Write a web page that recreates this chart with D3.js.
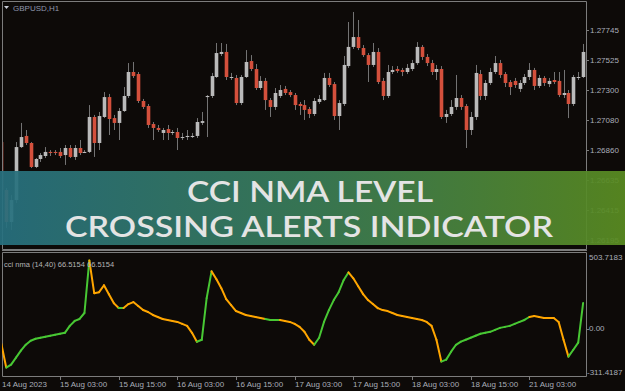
<!DOCTYPE html>
<html>
<head>
<meta charset="utf-8">
<script src="https://cdn.jsdelivr.net/npm/d3@7/dist/d3.min.js"></script>
<style>
body { margin: 0; background: #0d0a08; overflow: hidden; }
</style>
</head>
<body>
<div id="chart"></div>
<script>
// GBPUSD H1 bars, [open, high, low, close]
var candles = [
	[1.26918,1.26948,1.26527,1.26564],[1.26564,1.26579,1.26284,1.26328],[1.26328,1.26527,1.26269,1.26490],[1.26490,1.26918,1.26468,1.26881],
	[1.26881,1.27059,1.26874,1.26955],[1.26963,1.27007,1.26896,1.26911],[1.26911,1.26918,1.26726,1.26734],[1.26734,1.26800,1.26726,1.26793],
	[1.26793,1.26837,1.26771,1.26822],[1.26815,1.26881,1.26800,1.26845],[1.26845,1.26859,1.26815,1.26837],[1.26845,1.26859,1.26822,1.26837],
	[1.26845,1.26874,1.26800,1.26815],[1.26822,1.26896,1.26749,1.26874],[1.26874,1.26896,1.26800,1.26808],[1.26808,1.26896,1.26786,1.26874],
	[1.26874,1.26933,1.26822,1.26837],[1.26837,1.26859,1.26837,1.26845],[1.26845,1.27191,1.26837,1.27103],[1.27103,1.27118,1.26808,1.26911],
	[1.26911,1.27140,1.26859,1.27110],[1.27103,1.27287,1.27095,1.27250],[1.27250,1.27273,1.26970,1.27088],[1.27095,1.27118,1.27007,1.27059],
	[1.27059,1.27169,1.26933,1.27147],[1.27147,1.27324,1.27140,1.27258],[1.27258,1.27501,1.27243,1.27435],[1.27435,1.27509,1.27391,1.27405],
	[1.27420,1.27435,1.27206,1.27221],[1.27221,1.27236,1.27162,1.27177],[1.27184,1.27199,1.27022,1.27044],[1.27051,1.27066,1.26933,1.27022],
	[1.27022,1.27044,1.26992,1.27007],[1.26985,1.27022,1.26933,1.27007],[1.27014,1.27044,1.26933,1.26985],[1.26985,1.27007,1.26970,1.26992],
	[1.26992,1.27022,1.26859,1.26948],[1.26948,1.26985,1.26933,1.26955],[1.26955,1.27007,1.26933,1.26963],[1.26955,1.26985,1.26948,1.26963],
	[1.26963,1.27095,1.26948,1.27066],[1.27059,1.27140,1.27044,1.27073],[1.27250,1.27265,1.26955,1.27258],[1.27258,1.27428,1.27243,1.27405],
	[1.27398,1.27649,1.27391,1.27575],[1.27568,1.27649,1.27553,1.27583],[1.27583,1.27642,1.27376,1.27398],[1.27391,1.27428,1.27376,1.27398],
	[1.27391,1.27413,1.27191,1.27206],[1.27206,1.27413,1.27191,1.27398],[1.27398,1.27597,1.27391,1.27509],[1.27516,1.27560,1.27442,1.27457],
	[1.27457,1.27494,1.27302,1.27317],[1.27317,1.27405,1.27302,1.27369],[1.27369,1.27391,1.27155,1.27228],[1.27228,1.27243,1.27103,1.27177],
	[1.27177,1.27317,1.27155,1.27280],[1.27258,1.27339,1.27243,1.27302],[1.27310,1.27332,1.27265,1.27280],[1.27287,1.27302,1.27250,1.27265],
	[1.27265,1.27280,1.27155,1.27191],[1.27199,1.27214,1.27118,1.27184],[1.27191,1.27228,1.27081,1.27155],[1.27162,1.27177,1.27095,1.27125],
	[1.27125,1.27243,1.27110,1.27221],[1.27214,1.27265,1.27199,1.27236],[1.27228,1.27428,1.27221,1.27391],[1.27391,1.27428,1.27324,1.27339],
	[1.27346,1.27361,1.27081,1.27110],[1.27110,1.27228,1.27007,1.27206],[1.27199,1.27553,1.27184,1.27487],[1.27479,1.27804,1.27465,1.27620],
	[1.27620,1.27878,1.27605,1.27693],[1.27693,1.27819,1.27597,1.27612],[1.27612,1.27634,1.27546,1.27560],[1.27560,1.27575,1.27361,1.27487],
	[1.27487,1.27649,1.27472,1.27583],[1.27583,1.27612,1.27346,1.27361],[1.27369,1.27391,1.27228,1.27258],[1.27258,1.27487,1.27243,1.27435],
	[1.27435,1.27479,1.27420,1.27450],[1.27457,1.27479,1.27428,1.27442],[1.27450,1.27465,1.27405,1.27435],[1.27435,1.27494,1.27420,1.27465],
	[1.27457,1.27524,1.27442,1.27501],[1.27501,1.27656,1.27487,1.27620],[1.27620,1.27634,1.27524,1.27546],[1.27546,1.27568,1.27479,1.27501],
	[1.27501,1.27524,1.27413,1.27435],[1.27435,1.27487,1.27376,1.27457],[1.27457,1.27479,1.27088,1.27103],[1.27103,1.27155,1.27059,1.27125],
	[1.27125,1.27228,1.27110,1.27177],[1.27177,1.27413,1.27155,1.27243],[1.27243,1.27265,1.27155,1.27177],[1.27184,1.27199,1.26874,1.27007],
	[1.27007,1.27140,1.26970,1.27103],[1.27103,1.27487,1.27081,1.27428],[1.27420,1.27450,1.27228,1.27258],[1.27258,1.27376,1.27228,1.27354],
	[1.27354,1.27465,1.27339,1.27435],[1.27435,1.27553,1.27420,1.27501],[1.27501,1.27524,1.27391,1.27413],[1.27420,1.27435,1.27324,1.27354],
	[1.27361,1.27376,1.27265,1.27324],[1.27369,1.27391,1.27317,1.27339],[1.27310,1.27376,1.27287,1.27354],[1.27354,1.27420,1.27339,1.27398],
	[1.27398,1.27501,1.27376,1.27450],[1.27450,1.27465,1.27302,1.27332],[1.27332,1.27413,1.27317,1.27391],[1.27391,1.27405,1.27332,1.27354],
	[1.27346,1.27391,1.27324,1.27369],[1.27376,1.27435,1.27346,1.27361],[1.27369,1.27435,1.27250,1.27265],[1.27265,1.27450,1.27243,1.27280],
	[1.27280,1.27302,1.27095,1.27199],[1.27199,1.27413,1.27184,1.27398],[1.27391,1.27435,1.27376,1.27398],[1.27398,1.27642,1.27391,1.27583]
];

// cci nma value per bar
var cci = [
	-107.5,-276.2,-255.1,-205.9,-156.7,-114.5,-86.4,-72.4,-65.4,-58.3,
	-51.3,-44.3,-37.2,-30.2,19.0,54.1,68.1,110.3,482.7,250.9,
	258.0,307.1,243.9,180.6,145.5,145.5,173.6,187.6,159.5,131.4,
	117.3,96.3,82.2,68.1,61.1,54.1,47.1,33.0,19.0,-30.2,
	-93.5,-79.4,215.7,405.5,349.2,286.0,208.7,166.5,124.4,110.3,
	96.3,89.2,82.2,75.2,68.1,61.1,61.1,61.1,54.1,47.1,
	33.0,11.9,-23.0,-79.0,-114.5,-65.0,47.0,131.0,202.0,258.0,
	342.0,398.0,356.0,300.0,244.0,202.0,174.0,145.0,131.0,124.0,
	110.0,96.0,89.0,82.0,75.0,68.0,61.0,47.0,19.0,-79.0,
	-234.0,-220.0,-164.0,-115.0,-93.0,-79.0,-65.0,-51.0,-37.0,-30.0,
	-23.0,-9.0,5.0,12.0,19.0,33.0,47.0,61.0,82.0,89.0,
	82.0,75.0,75.0,75.0,47.0,-79.0,-199.0,-150.0,-100.0,181.0
];

// 1 = rising (green), 0 = falling (orange), segment ending at that bar
var cciUp = [
	0,0,1,1,1,1,1,1,1,1, 1,1,1,1,1,1,1,1,1,0,
	0,0,0,0,0,1,0,0,0,0, 0,0,0,0,0,0,0,0,0,0,
	0,1,1,1,0,0,0,0,0,0, 0,0,0,0,0,1,1,1,0,0,
	0,0,0,0,0,1,1,1,1,1, 1,1,0,0,0,0,0,0,0,0,
	0,0,0,0,0,0,0,0,0,0, 0,1,1,1,1,1,1,1,1,1,
	1,1,1,1,1,1,1,1,1,0, 0,0,0,0,0,0,0,1,1,1
];

var priceTicks = [1.27745, 1.27525, 1.27300, 1.27080, 1.26860, 1.26635, 1.26415, 1.26195];
var cciTicks = [503.7183, 0, -311.4187];
var cciTickLabels = ["503.7183", "0.00", "-311.4187"];
var timeTickBars = [0, 12, 24, 36, 48, 60, 72, 84, 96, 108];
var timeTickLabels = ["14 Aug 2023", "15 Aug 03:00", "15 Aug 15:00", "16 Aug 03:00", "16 Aug 15:00",
	"17 Aug 03:00", "17 Aug 15:00", "18 Aug 03:00", "18 Aug 15:00", "21 Aug 03:00"];

var config = {
	width: 625, height: 391,
	left: 2, right: 586,
	mainTop: 1, mainBottom: 249,
	subTop: 252, subBottom: 376,
	frame: "#7c7c7c", text: "#a9adb8",
	bull: "#bababa", bear: "#d4503c", wick: "#737373",
	up: "#48c834", down: "#ffa600"
};

var svg = d3.select("#chart").append("svg")
	.attr("width", config.width)
	.attr("height", config.height)
	.style("font-family", "'Liberation Sans', Arial, sans-serif");

svg.append("rect").attr("width", config.width).attr("height", config.height).attr("fill", "#0d0a08");

var x = d3.scaleLinear().domain([0, candles.length - 1]).range([1.33, 583.1]);
var yPrice = d3.scaleLinear().domain([1.26195, 1.27745]).range([240, 30]);
var yCci = d3.scaleLinear().domain([-311.4187, 503.7183]).range([372.5, 257.5]);

var defs = svg.append("defs");
defs.append("clipPath").attr("id", "clipMain").append("rect")
	.attr("x", config.left).attr("y", config.mainTop)
	.attr("width", config.right - config.left).attr("height", config.mainBottom - config.mainTop);
defs.append("clipPath").attr("id", "clipSub").append("rect")
	.attr("x", config.left).attr("y", config.subTop)
	.attr("width", config.right - config.left).attr("height", config.subBottom - config.subTop);

// candles
var candleGroup = svg.append("g").attr("clip-path", "url(#clipMain)");
var bars = candleGroup.selectAll("g.bar").data(candles).enter().append("g").attr("class", "bar");
bars.append("line")
	.attr("x1", function(d, i) { return Math.round(x(i)) + 0.5; })
	.attr("x2", function(d, i) { return Math.round(x(i)) + 0.5; })
	.attr("y1", function(d) { return yPrice(d[1]); })
	.attr("y2", function(d) { return yPrice(d[2]); })
	.attr("stroke", config.wick)
	.attr("stroke-width", 1);
bars.append("rect")
	.attr("x", function(d, i) { return Math.round(x(i)) - 1.3; })
	.attr("width", 3.6)
	.attr("y", function(d) { return yPrice(Math.max(d[0], d[3])); })
	.attr("height", function(d) { return Math.max(1, Math.abs(yPrice(d[0]) - yPrice(d[3]))); })
	.attr("fill", function(d) { return d[3] >= d[0] ? config.bull : config.bear; });

// frame
var frame = svg.append("g").attr("stroke", config.frame).attr("stroke-width", 1).attr("fill", "none");
frame.append("path").attr("d", "M" + (config.left + 0.5) + "," + (config.mainBottom + 0.5) + "V" + (config.mainTop + 0.5) + "H" + (config.right + 0.5) + "V" + (config.mainBottom + 0.5) + "H" + (config.left + 0.5));
frame.append("path").attr("d", "M" + (config.left + 0.5) + "," + (config.subBottom + 0.5) + "V" + (config.subTop + 0.5) + "H" + (config.right + 0.5) + "V" + (config.subBottom + 0.5) + "Z");
frame.append("line").attr("x1", config.left).attr("x2", config.right + 1).attr("y1", config.mainBottom + 1.5).attr("y2", config.mainBottom + 1.5);

// price axis
var priceAxis = svg.append("g");
priceAxis.selectAll("line").data(priceTicks).enter().append("line")
	.attr("x1", config.right).attr("x2", config.right + 3)
	.attr("y1", function(d) { return Math.round(yPrice(d)) + 0.5; })
	.attr("y2", function(d) { return Math.round(yPrice(d)) + 0.5; })
	.attr("stroke", config.frame);
priceAxis.selectAll("text").data(priceTicks).enter().append("text")
	.attr("x", config.right + 4)
	.attr("y", function(d) { return yPrice(d); })
	.attr("dy", "0.35em")
	.attr("fill", config.text)
	.style("font-size", "8px")
	.text(function(d) { return d3.format(".5f")(d); });

// header
svg.append("path").attr("d", "M4,6 L9,6 L6.5,9 Z").attr("fill", "#c8ccd6");
svg.append("text").attr("x", 13).attr("y", 11).attr("fill", "#8e96ab").style("font-size", "8px").text("GBPUSD,H1");

// cci nma line
var cciGroup = svg.append("g").attr("clip-path", "url(#clipSub)");
var segs = d3.range(1, cci.length);
cciGroup.selectAll("line").data(segs).enter().append("line")
	.attr("x1", function(i) { return x(i - 1); })
	.attr("y1", function(i) { return yCci(cci[i - 1]); })
	.attr("x2", function(i) { return x(i); })
	.attr("y2", function(i) { return yCci(cci[i]); })
	.attr("stroke", function(i) { return cciUp[i] ? config.up : config.down; })
	.attr("stroke-width", 2)
	.attr("stroke-linecap", "round");

svg.append("text").attr("x", 4).attr("y", 267).attr("fill", "#b4b4b4").style("font-size", "7.5px")
	.text("cci nma (14,40) 66.5154 66.5154");

var cciAxis = svg.append("g");
cciAxis.append("line").attr("x1", config.right).attr("x2", config.right + 3)
	.attr("y1", Math.round(yCci(0)) + 0.5).attr("y2", Math.round(yCci(0)) + 0.5).attr("stroke", config.frame);
cciAxis.selectAll("text").data(cciTicks).enter().append("text")
	.attr("x", function(d, i) { return i == 2 ? config.right + 1 : config.right + 3; })
	.attr("y", function(d) { return yCci(d); })
	.attr("dy", "0.35em")
	.attr("fill", config.text)
	.style("font-size", "8px")
	.text(function(d, i) { return cciTickLabels[i]; });

// time axis
var timeAxis = svg.append("g");
timeAxis.selectAll("line").data(timeTickBars.slice(1)).enter().append("line")
	.attr("x1", function(d) { return Math.round(x(d)) + 0.5; })
	.attr("x2", function(d) { return Math.round(x(d)) + 0.5; })
	.attr("y1", config.subBottom).attr("y2", config.subBottom + 4)
	.attr("stroke", config.frame);
timeAxis.selectAll("text").data(timeTickBars).enter().append("text")
	.attr("x", function(d) { return d == 0 ? 2 : Math.round(x(d)); })
	.attr("y", 387)
	.attr("fill", config.text)
	.style("font-size", "8px")
	.text(function(d, i) { return timeTickLabels[i]; });

// banner
var grad = defs.append("linearGradient").attr("id", "bannerGrad").attr("x1", "0%").attr("x2", "100%");
grad.append("stop").attr("offset", "0%").attr("stop-color", "#27707f");
grad.append("stop").attr("offset", "50%").attr("stop-color", "#3a7c57");
grad.append("stop").attr("offset", "100%").attr("stop-color", "#5a8c21");
svg.append("rect").attr("x", 0).attr("y", 171).attr("width", config.width).attr("height", 74)
	.attr("fill", "url(#bannerGrad)").attr("opacity", 0.93);

var bannerText = svg.append("g").attr("fill", "#e4e4e4").attr("text-anchor", "middle")
	.style("font-family", "Lato, 'Open Sans', sans-serif").style("font-weight", 600).style("font-size", "29px");
bannerText.append("text").attr("x", 310).attr("y", 202).attr("textLength", 246).attr("lengthAdjust", "spacingAndGlyphs").text("CCI NMA LEVEL");
bannerText.append("text").attr("x", 309).attr("y", 237).attr("textLength", 488).attr("lengthAdjust", "spacingAndGlyphs").text("CROSSING ALERTS INDICATOR");
</script>
</body>
</html>
